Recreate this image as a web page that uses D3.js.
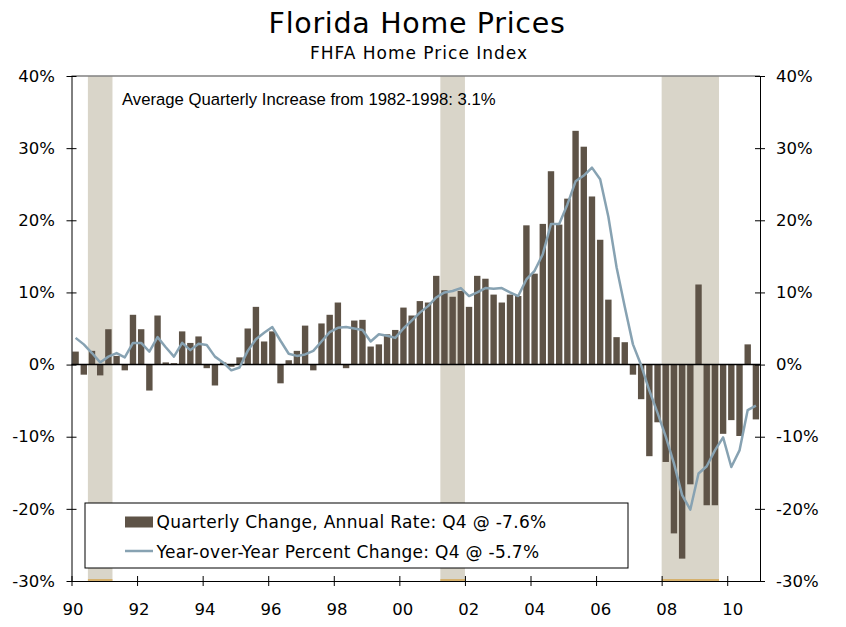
<!DOCTYPE html>
<html lang="en">
<head>
    <meta charset="UTF-8">
    <title>Florida Home Prices</title>
    <script src="https://d3js.org/d3.v7.min.js"></script>
    <style>
        body {
            margin: 0;
            background: #fff;
        }
        .axis text {
            font-family: "DejaVu Sans", Verdana, sans-serif;
            font-size: 16.5px;
            fill: #000;
        }
        .axis path,
        .axis line {
            stroke: #000;
            stroke-width: 1;
        }
        .title {
            font-family: "DejaVu Sans", Verdana, sans-serif;
            font-size: 28.5px;
            letter-spacing: 0.7px;
        }
        .subtitle {
            font-family: "DejaVu Sans", Verdana, sans-serif;
            font-size: 17px;
            letter-spacing: 1px;
        }
        .legend text {
            font-family: "DejaVu Sans", Verdana, sans-serif;
            font-size: 17px;
            letter-spacing: 0.3px;
        }
        .note {
            font-family: "Liberation Sans", Arial, sans-serif;
            font-size: 16.7px;
        }
    </style>
</head>
<body>
<div id="chart"></div>
<script>
    // Quarterly data, 1990Q1 - 2010Q4
    const years = d3.range(1990, 2011);
    const quarters = years.flatMap(y => [1, 2, 3, 4].map(q => y + "Q" + q));

    // Quarterly change, annual rate (%)
    const quarterlyChange = [
        1.8, -1.4, 1.9, -1.5,      // 1990
        4.9, 1.2, -0.8, 6.9,       // 1991
        4.9, -3.6, 6.8, 0.3,       // 1992
        0.2, 4.6, 3.0, 3.9,        // 1993
        -0.5, -2.9, 0.3, -0.3,     // 1994
        1.0, 5.0, 8.0, 3.2,        // 1995
        4.6, -2.6, 0.6, 1.9,       // 1996
        5.4, -0.8, 5.7, 6.9,       // 1997
        8.6, -0.5, 6.1, 6.2,       // 1998
        2.5, 2.8, 4.2, 4.8,        // 1999
        7.9, 6.8, 8.8, 8.6,        // 2000
        12.3, 10.3, 9.4, 10.2,     // 2001
        8.0, 12.3, 11.9, 9.7,      // 2002
        8.6, 9.7, 9.5, 19.3,       // 2003
        12.6, 19.5, 26.8, 19.4,    // 2004
        23.0, 32.4, 30.2, 23.3,    // 2005
        17.3, 9.0, 3.8, 3.1,       // 2006
        -1.4, -4.8, -12.7, -8.0,   // 2007
        -13.5, -23.4, -26.9, -16.6,// 2008
        11.1, -19.5, -19.5, -9.6,  // 2009
        -7.7, -9.9, 2.8, -7.6      // 2010
    ];

    // Year-over-year percent change (%)
    const yoyChange = [
        3.7, 2.8, 1.6, 0.3,        // 1990
        1.1, 1.6, 1.0, 3.0,        // 1991
        3.0, 1.8, 3.8, 2.4,        // 1992
        1.1, 3.0, 2.0, 2.9,        // 1993
        2.7, 1.1, 0.3, -0.8,       // 1994
        -0.4, 1.9, 3.5, 4.4,       // 1995
        5.2, 3.3, 1.5, 1.2,        // 1996
        1.4, 1.9, 3.2, 4.5,        // 1997
        5.1, 5.2, 5.0, 4.8,        // 1998
        3.2, 4.2, 4.0, 3.7,        // 1999
        5.0, 6.1, 7.2, 8.1,        // 2000
        9.3, 10.0, 10.2, 10.6,     // 2001
        9.5, 10.0, 10.6, 10.5,     // 2002
        10.6, 10.0, 9.5, 11.8,     // 2003
        13.0, 15.3, 19.5, 19.5,    // 2004
        22.2, 25.4, 26.2, 27.3,    // 2005
        25.7, 20.5, 13.5, 8.0,     // 2006
        2.8, -0.1, -3.6, -6.7,     // 2007
        -10.0, -13.7, -18.1, -20.1,// 2008
        -15.1, -14.1, -11.9, -10.1,// 2009
        -14.2, -11.9, -6.3, -5.7   // 2010
    ];

    // Recessions (start, end as fractional years)
    const recessions = [[1990.5, 1991.25], [2001.25, 2002.0], [2008.0, 2009.75]];

    const yTicks = [-30, -20, -10, 0, 10, 20, 30, 40];
    const xTicks = d3.range(1990, 2011, 2);

    const barColor = "#5e5347";
    const lineColor = "#87a2b2";
    const shadeColor = "#d9d5c9";

    const margin = { top: 76, right: 86, bottom: 46, left: 71.5 };
    const fullW = 846, fullH = 627;
    const width = fullW - margin.left - margin.right;
    const height = fullH - margin.top - margin.bottom;

    const svg = d3.select("#chart")
        .append("svg")
        .attr("width", fullW)
        .attr("height", fullH);

    // titles
    svg.append("text")
        .attr("class", "title")
        .attr("x", 417)
        .attr("y", 33)
        .attr("text-anchor", "middle")
        .text("Florida Home Prices");

    svg.append("text")
        .attr("class", "subtitle")
        .attr("x", 419)
        .attr("y", 59)
        .attr("text-anchor", "middle")
        .text("FHFA Home Price Index");

    const g = svg.append("g")
        .attr("transform", "translate(" + margin.left + "," + margin.top + ")");

    const x = d3.scaleLinear().domain([1990, 2011]).range([0, width]);
    const y = d3.scaleLinear().domain([-30, 40]).range([height, 0]);
    const step = x(1990.25) - x(1990);

    const data = quarters.map((q, i) => ({
        t: 1990 + i / 4,
        bar: quarterlyChange[i],
        yoy: yoyChange[i]
    }));

    // recession shading
    g.selectAll(".shade")
        .data(recessions)
        .enter()
        .append("rect")
        .attr("class", "shade")
        .attr("x", d => x(d[0]))
        .attr("width", d => x(d[1]) - x(d[0]))
        .attr("y", y(40))
        .attr("height", y(-30) - y(40))
        .attr("fill", shadeColor);

    g.selectAll(".shade-base")
        .data(recessions)
        .enter()
        .append("line")
        .attr("x1", d => x(d[0]))
        .attr("x2", d => x(d[1]))
        .attr("y1", y(-30) - 1)
        .attr("y2", y(-30) - 1)
        .attr("stroke", "#d4a54e")
        .attr("stroke-width", 1.5);

    // top border
    g.append("line")
        .attr("x1", 0)
        .attr("x2", width)
        .attr("y1", y(40))
        .attr("y2", y(40))
        .attr("stroke", "#808080")
        .attr("stroke-width", 1.5);

    // bars
    g.selectAll(".bar")
        .data(data)
        .enter()
        .append("rect")
        .attr("class", "bar")
        .attr("x", d => x(d.t) + step * 0.11)
        .attr("width", step * 0.78)
        .attr("y", d => y(Math.max(0, d.bar)))
        .attr("height", d => Math.abs(y(d.bar) - y(0)))
        .attr("fill", barColor);

    // zero line
    g.append("line")
        .attr("x1", 0)
        .attr("x2", width)
        .attr("y1", y(0))
        .attr("y2", y(0))
        .attr("stroke", "#000")
        .attr("stroke-width", 1.5);

    // yoy line
    const line = d3.line()
        .x(d => x(d.t) + step / 2)
        .y(d => y(d.yoy));

    g.append("path")
        .datum(data)
        .attr("fill", "none")
        .attr("stroke", lineColor)
        .attr("stroke-width", 2.5)
        .attr("stroke-linejoin", "round")
        .attr("d", line);

    // annotation
    g.append("text")
        .attr("class", "note")
        .attr("x", 122 - margin.left)
        .attr("y", 105 - margin.top)
        .text("Average Quarterly Increase from 1982-1998: 3.1%");

    // legend
    const legend = g.append("g")
        .attr("class", "legend")
        .attr("transform", "translate(" + (85 - margin.left) + "," + (503 - margin.top) + ")");

    legend.append("rect")
        .attr("width", 543)
        .attr("height", 65)
        .attr("fill", "#fff")
        .attr("stroke", "#000")
        .attr("stroke-width", 1);

    legend.append("rect")
        .attr("x", 40)
        .attr("y", 13.5)
        .attr("width", 28)
        .attr("height", 11)
        .attr("fill", barColor);

    legend.append("text")
        .attr("x", 71.5)
        .attr("y", 24.5)
        .text("Quarterly Change, Annual Rate: Q4 @ -7.6%");

    legend.append("line")
        .attr("x1", 40)
        .attr("x2", 68)
        .attr("y1", 48)
        .attr("y2", 48)
        .attr("stroke", lineColor)
        .attr("stroke-width", 2.5);

    legend.append("text")
        .attr("x", 71.5)
        .attr("y", 55)
        .text("Year-over-Year Percent Change: Q4 @ -5.7%");

    // axes
    const fmt = d => d + "%";

    const yLeft = g.append("g")
        .attr("class", "axis")
        .call(d3.axisLeft(y).tickValues(yTicks).tickFormat(fmt).tickSize(5).tickPadding(11.5).tickSizeOuter(0));
    yLeft.selectAll(".tick line").attr("x1", 5);

    const yRight = g.append("g")
        .attr("class", "axis")
        .attr("transform", "translate(" + width + ",0)")
        .call(d3.axisRight(y).tickValues(yTicks).tickFormat(fmt).tickSize(5).tickPadding(11).tickSizeOuter(0));
    yRight.selectAll(".tick line").attr("x1", -5);

    const xAxis = g.append("g")
        .attr("class", "axis")
        .attr("transform", "translate(0," + height + ")")
        .call(d3.axisBottom(x).tickValues(xTicks).tickFormat(d => String(d).slice(2)).tickSize(5).tickPadding(17).tickSizeOuter(0));
    xAxis.selectAll(".tick line").attr("y1", -5);
    xAxis.selectAll(".tick text").attr("dx", (d, i) => 1 + i * 0.4);
    xAxis.select(".domain").attr("d", "M0,0.5H" + width);
</script>
</body>
</html>
